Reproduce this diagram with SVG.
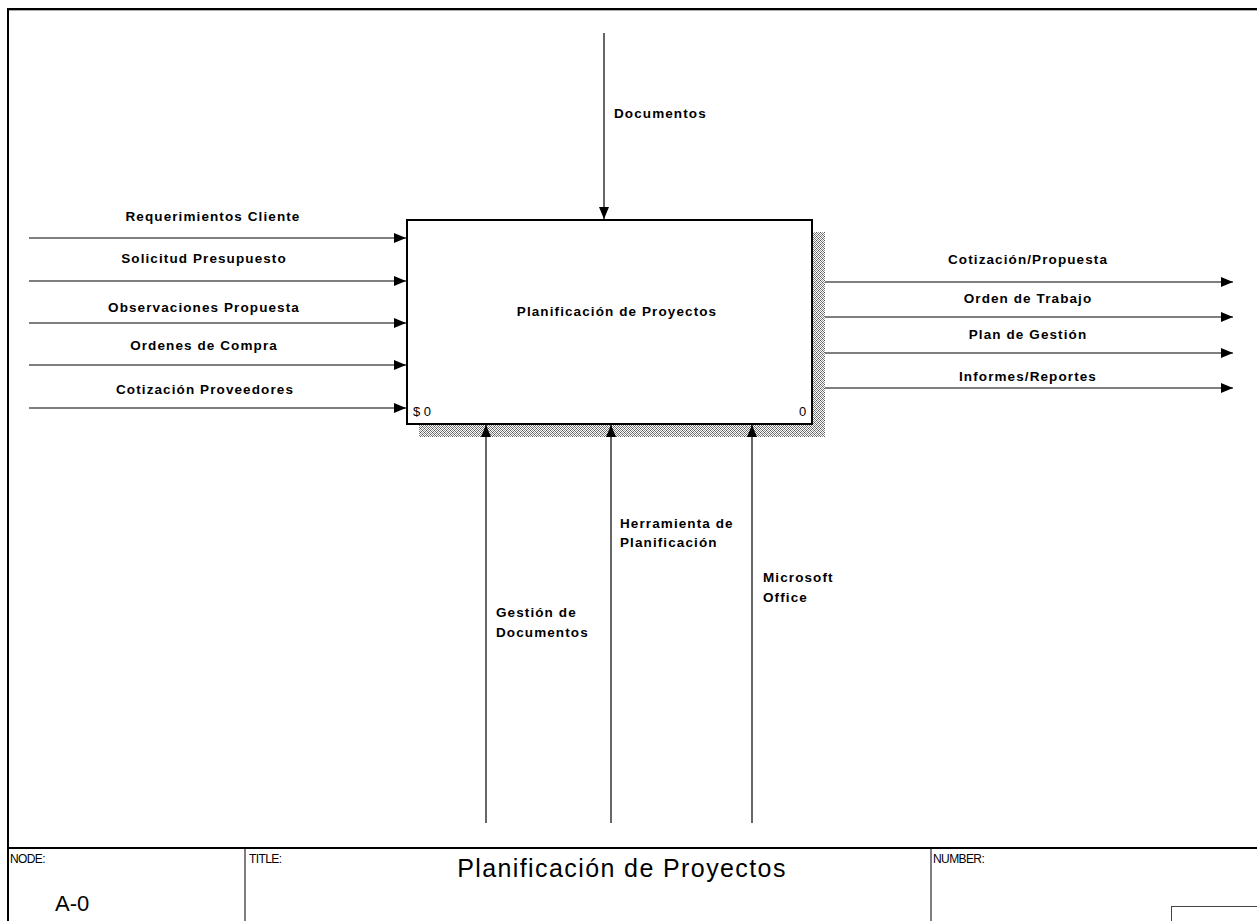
<svg xmlns="http://www.w3.org/2000/svg" width="1257" height="921" viewBox="0 0 1257 921">
  <defs>
    <pattern id="hatch" width="4" height="4" patternUnits="userSpaceOnUse">
      <rect width="4" height="4" fill="#ffffff"/>
      <rect x="0" y="0" width="1" height="1" fill="#555"/>
      <rect x="2" y="0" width="1" height="1" fill="#999"/>
      <rect x="1" y="1" width="1" height="1" fill="#777"/>
      <rect x="3" y="1" width="1" height="1" fill="#777"/>
      <rect x="0" y="2" width="1" height="1" fill="#999"/>
      <rect x="2" y="2" width="1" height="1" fill="#555"/>
      <rect x="1" y="3" width="1" height="1" fill="#777"/>
      <rect x="3" y="3" width="1" height="1" fill="#777"/>
    </pattern>
    <marker id="arrow" viewBox="0 0 12 10" markerWidth="12" markerHeight="10" refX="12" refY="5" orient="auto" markerUnits="userSpaceOnUse">
      <path d="M0,0 L12,5 L0,10 Z" fill="#000"/>
    </marker>
    <style>
      .frame { fill: none; stroke: #000; stroke-width: 2; }
      .thin { fill: none; stroke: #000; stroke-width: 1; }
      .arc { fill: none; stroke: #000; stroke-width: 1.2; marker-end: url(#arrow); }
      .lbl { font-family: "Liberation Sans", Arial, sans-serif; font-weight: bold; font-size: 13.5px; letter-spacing: 1.1px; fill: #000; }
      .mid { text-anchor: middle; }
      .small { font-family: "Liberation Sans", Arial, sans-serif; font-size: 13px; fill: #000; }
      .tb { font-family: "Liberation Sans", Arial, sans-serif; fill: #000; }
    </style>
  </defs>

  <rect width="1257" height="921" fill="#ffffff"/>

  <!-- drawing frame and title block -->
  <g id="frame">
    <line x1="7" y1="9" x2="1257" y2="9" class="frame"/>
    <line x1="7" y1="10.5" x2="1257" y2="10.5" stroke="#aaa" stroke-width="1"/>
    <line x1="8" y1="9" x2="8" y2="921" class="frame"/>
    <line x1="8" y1="848" x2="1257" y2="848" class="frame"/>
    <line x1="245" y1="848" x2="245" y2="921" class="thin"/>
    <line x1="931" y1="848" x2="931" y2="921" class="thin"/>
    <rect x="1171.5" y="906.5" width="90" height="20" fill="none" stroke="#444" stroke-width="1"/>
    <text x="10" y="863" class="tb" font-size="12" letter-spacing="-0.6">NODE:</text>
    <text x="55" y="911" class="tb" font-size="22">A-0</text>
    <text x="249" y="863" class="tb" font-size="12" letter-spacing="-0.6">TITLE:</text>
    <text x="622" y="877" class="tb mid" font-size="25" letter-spacing="1.4">Planificación de Proyectos</text>
    <text x="933" y="863" class="tb" font-size="12" letter-spacing="-0.6">NUMBER:</text>
  </g>

  <!-- activity box A0 -->
  <g id="node-A0">
    <rect x="813" y="232" width="12" height="205" fill="url(#hatch)"/>
    <rect x="419" y="425" width="406" height="12" fill="url(#hatch)"/>
    <rect x="407" y="220" width="405" height="204" fill="#fff" stroke="#000" stroke-width="2"/>
    <text x="617" y="316" class="lbl mid">Planificación de Proyectos</text>
    <text x="413" y="416" class="small">$ 0</text>
    <text x="799" y="416" class="small">0</text>
  </g>

  <!-- arrows -->
  <g id="connectors">
    <!-- inputs -->
    <line x1="29" y1="238" x2="406" y2="238" class="arc"/>
    <line x1="29" y1="281" x2="406" y2="281" class="arc"/>
    <line x1="29" y1="323" x2="406" y2="323" class="arc"/>
    <line x1="29" y1="365" x2="406" y2="365" class="arc"/>
    <line x1="29" y1="408" x2="406" y2="408" class="arc"/>
    <!-- control -->
    <line x1="604" y1="33" x2="604" y2="219" class="arc"/>
    <!-- outputs -->
    <line x1="825" y1="282" x2="1233" y2="282" class="arc"/>
    <line x1="825" y1="317" x2="1233" y2="317" class="arc"/>
    <line x1="825" y1="353" x2="1233" y2="353" class="arc"/>
    <line x1="825" y1="388" x2="1233" y2="388" class="arc"/>
    <!-- mechanisms -->
    <line x1="486" y1="823" x2="486" y2="425" class="arc"/>
    <line x1="611" y1="823" x2="611" y2="425" class="arc"/>
    <line x1="752" y1="823" x2="752" y2="425" class="arc"/>
  </g>

  <g id="arrow-labels">
    <text x="213" y="221" class="lbl mid">Requerimientos Cliente</text>
    <text x="204" y="263" class="lbl mid">Solicitud Presupuesto</text>
    <text x="204" y="312" class="lbl mid">Observaciones Propuesta</text>
    <text x="204" y="350" class="lbl mid">Ordenes de Compra</text>
    <text x="205" y="394" class="lbl mid">Cotización Proveedores</text>
    <text x="614" y="118" class="lbl">Documentos</text>
    <text x="1028" y="264" class="lbl mid">Cotización/Propuesta</text>
    <text x="1028" y="303" class="lbl mid">Orden de Trabajo</text>
    <text x="1028" y="339" class="lbl mid">Plan de Gestión</text>
    <text x="1028" y="381" class="lbl mid">Informes/Reportes</text>
    <text x="496" y="617" class="lbl">Gestión de</text>
    <text x="496" y="637" class="lbl">Documentos</text>
    <text x="620" y="528" class="lbl">Herramienta de</text>
    <text x="620" y="547" class="lbl">Planificación</text>
    <text x="763" y="582" class="lbl">Microsoft</text>
    <text x="763" y="602" class="lbl">Office</text>
  </g>
</svg>
